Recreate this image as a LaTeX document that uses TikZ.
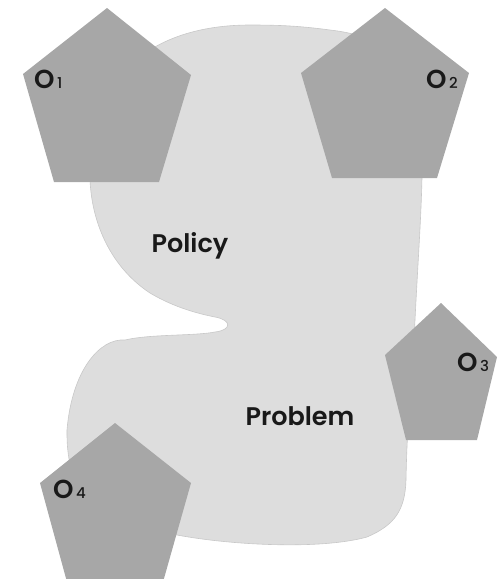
\documentclass[tikz,border=0pt]{standalone}
\usepackage{fontspec}
\setmainfont{Poppins}
\newfontfamily\medfont{Poppins SemiBold}
\newfontfamily\digfont{Poppins Medium}
\definecolor{blobfill}{RGB}{221,221,221}
\definecolor{blobedge}{RGB}{200,200,200}
\definecolor{pentfill}{RGB}{167,167,167}
\definecolor{txt}{RGB}{25,25,25}
\tikzset{
  blob/.style={fill=blobfill, draw=blobedge, line width=0.6pt},
  pent/.style={fill=pentfill, draw=none},
  bigtext/.style={anchor=base, text=txt, inner sep=0pt, font=\fontsize{25.5}{26}\medfont},
  olabel/.style={anchor=base west, text=txt, inner sep=0pt, font=\fontsize{26}{26}\medfont},
}
\newcommand{\olab}[1]{O\hspace{2.5pt}{\fontsize{15}{15}\digfont #1}}
\begin{document}
\begin{tikzpicture}[x=1pt,y=-1pt]
\useasboundingbox (0,0) rectangle (500,579);
\clip (0,0) rectangle (500,579);
% blob
\path[blob] (250,25) .. controls (170,25) and (88,60) .. (90,180)
  .. controls (92,225) and (112,268) .. (150,293)
  .. controls (175,308) and (200,314) .. (215,317)
  .. controls (232,320) and (232,330) .. (215,332)
  .. controls (195,336) and (150,334) .. (125,340)
  .. controls (100,338) and (72,370) .. (67,430)
  .. controls (66,500) and (100,525) .. (177,535)
  .. controls (230,545) and (320,550) .. (367,537)
  .. controls (395,525) and (405,510) .. (406,480)
  .. controls (407,420) and (413,360) .. (415,320)
  .. controls (418,260) and (421,220) .. (422,178)
  .. controls (424,100) and (420,40) .. (330,30)
  .. controls (300,26) and (280,25) .. (250,25) -- cycle;
% pentagons
\path[pent] (107,8) -- (191,75) -- (159,182) -- (54,182) -- (23,74) -- cycle;
\path[pent] (385,8) -- (469,73) -- (437,178) -- (332,178) -- (301,73) -- cycle;
\path[pent] (441,303) -- (497,357) -- (477,440) -- (406,440) -- (385,355) -- cycle;
\path[pent] (115,423) -- (191,483) -- (163,582) -- (67,582) -- (40,483) -- cycle;
% labels
\node[bigtext] (policy) at (190,252) {Policy};
\node[bigtext] (problem) at (300,425) {Problem};
\node[olabel] (o1) at (34,88) {\olab{1}};
\node[olabel] (o2) at (426,88) {\olab{2}};
\node[olabel] (o3) at (457,371) {\olab{3}};
\node[olabel] (o4) at (53,498) {\olab{4}};
\end{tikzpicture}
\end{document}
